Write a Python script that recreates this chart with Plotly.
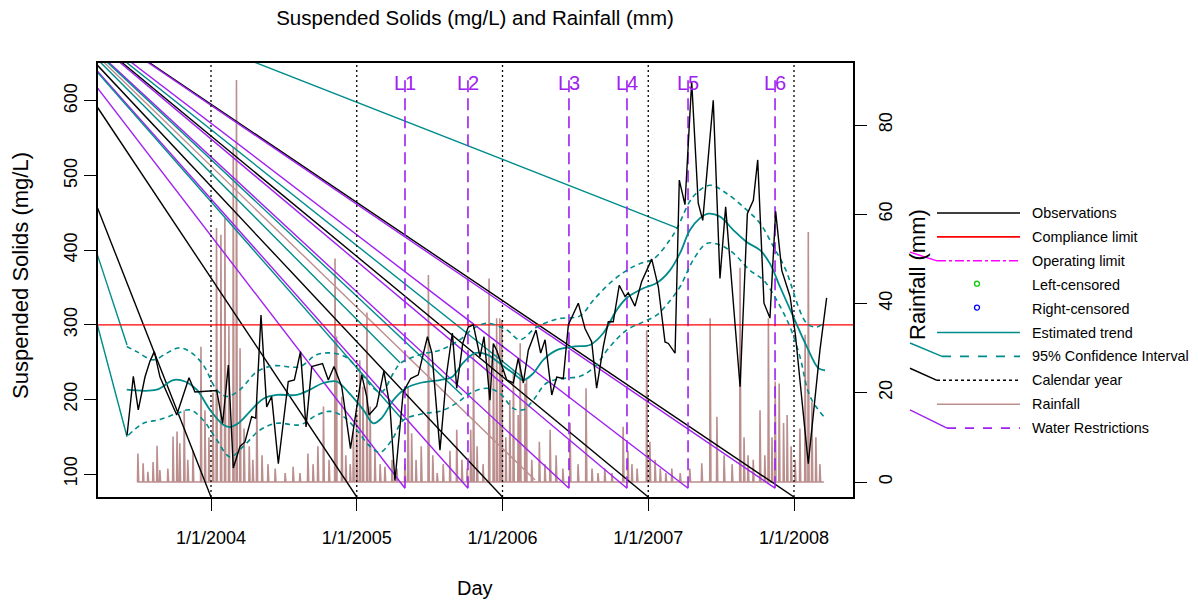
import numpy as np
import plotly.graph_objects as go

# ---------------- data ----------------
obs_year = [2003.424, 2003.467, 2003.501, 2003.547, 2003.581, 2003.611, 2003.650, 2003.765, 2003.849, 2003.890,
            2004.039, 2004.080, 2004.119, 2004.153, 2004.199, 2004.233, 2004.279, 2004.307, 2004.343, 2004.382,
            2004.416, 2004.462, 2004.530, 2004.572, 2004.614, 2004.652, 2004.691, 2004.765, 2004.805, 2004.844,
            2004.897, 2004.957, 2005.034, 2005.068, 2005.084, 2005.137, 2005.186, 2005.228, 2005.262, 2005.319,
            2005.370, 2005.422, 2005.485, 2005.516, 2005.571, 2005.617, 2005.656, 2005.686, 2005.727, 2005.765,
            2005.800, 2005.846, 2005.873, 2005.914, 2005.937, 2005.960, 2006.029, 2006.074, 2006.108, 2006.143,
            2006.177, 2006.230, 2006.262, 2006.292, 2006.338, 2006.372, 2006.417, 2006.452, 2006.520, 2006.566,
            2006.612, 2006.646, 2006.692, 2006.726, 2006.760, 2006.801, 2006.841, 2006.863, 2006.909, 2006.955,
            2007.024, 2007.069, 2007.115, 2007.138, 2007.184, 2007.213, 2007.252, 2007.298, 2007.343, 2007.374,
            2007.446, 2007.492, 2007.531, 2007.630, 2007.680, 2007.721, 2007.751, 2007.794, 2007.835, 2007.874,
            2007.916, 2007.973, 2008.010, 2008.098, 2008.178, 2008.224]
obs_ssc = [152, 231, 186, 230, 251, 264, 230, 179, 229, 210,
           212, 168, 246, 108, 137, 143, 177, 175, 313, 190,
           204, 114, 224, 226, 264, 163, 244, 248, 226, 244,
           217, 134, 233, 204, 179, 191, 238, 190, 91, 210,
           228, 233, 284, 262, 132, 235, 289, 215, 275, 297,
           300, 257, 284, 199, 275, 266, 226, 222, 255, 222,
           266, 293, 262, 280, 206, 230, 228, 300, 329, 295,
           277, 215, 271, 304, 304, 353, 338, 343, 325, 358,
           388, 351, 277, 275, 262, 494, 461, 626, 463, 440,
           601, 362, 458, 217, 449, 467, 521, 329, 309, 452,
           373, 338, 286, 114, 266, 336]

trend_year = [2003.422, 2003.627, 2003.741, 2003.822, 2003.902, 2003.993, 2004.084, 2004.130, 2004.187, 2004.268,
              2004.359, 2004.451, 2004.588, 2004.679, 2004.770, 2004.862, 2004.954, 2005.045, 2005.114, 2005.171,
              2005.251, 2005.337, 2005.434, 2005.571, 2005.654, 2005.729, 2005.811, 2005.894, 2005.983, 2006.074,
              2006.143, 2006.211, 2006.280, 2006.372, 2006.497, 2006.600, 2006.692, 2006.784, 2006.852, 2006.966,
              2007.058, 2007.149, 2007.218, 2007.286, 2007.355, 2007.412, 2007.492, 2007.584, 2007.675, 2007.767,
              2007.835, 2007.904, 2007.995, 2008.087, 2008.167, 2008.213]
trend_ssc = [213, 213, 226, 224, 213, 186, 166, 163, 168, 184,
             201, 206, 206, 213, 222, 224, 207, 186, 168, 175,
             199, 215, 222, 226, 230, 249, 262, 260, 248, 235,
             226, 235, 253, 266, 271, 273, 289, 320, 336, 349,
             356, 373, 396, 427, 443, 449, 445, 427, 411, 400,
             382, 351, 311, 271, 242, 239]

ci_upper_year = [2003.422, 2003.490, 2003.604, 2003.696, 2003.776, 2003.856, 2003.947, 2004.039, 2004.108, 2004.199,
                 2004.314, 2004.427, 2004.611, 2004.725, 2004.839, 2004.931, 2005.022, 2005.114, 2005.171, 2005.251,
                 2005.297, 2005.434, 2005.571, 2005.708, 2005.800, 2005.892, 2006.029, 2006.120, 2006.235, 2006.381,
                 2006.532, 2006.623, 2006.738, 2006.852, 2006.943, 2007.035, 2007.149, 2007.204, 2007.309, 2007.423,
                 2007.538, 2007.675, 2007.767, 2007.858, 2007.938, 2008.087, 2008.156, 2008.201]
ci_upper_ssc = [271, 264, 253, 262, 269, 264, 246, 213, 204, 213,
                237, 245, 244, 260, 262, 256, 237, 215, 210, 235,
                248, 260, 266, 280, 295, 302, 293, 280, 297, 308,
                312, 333, 356, 373, 382, 388, 414, 432, 472, 487,
                476, 454, 436, 405, 376, 302, 297, 302]

ci_lower_year = [2003.433, 2003.536, 2003.650, 2003.765, 2003.856, 2003.947, 2004.039, 2004.130, 2004.222, 2004.336,
                 2004.451, 2004.611, 2004.725, 2004.816, 2004.908, 2005.000, 2005.091, 2005.160, 2005.242, 2005.319,
                 2005.457, 2005.571, 2005.686, 2005.777, 2005.892, 2005.983, 2006.074, 2006.143, 2006.211, 2006.303,
                 2006.417, 2006.532, 2006.623, 2006.738, 2006.852, 2006.966, 2007.058, 2007.127, 2007.218, 2007.309,
                 2007.401, 2007.492, 2007.584, 2007.698, 2007.790, 2007.881, 2007.973, 2008.041, 2008.110, 2008.213]
ci_lower_ssc = [152, 168, 173, 181, 186, 172, 146, 123, 137, 159,
                168, 166, 179, 184, 177, 159, 137, 129, 146, 172,
                181, 184, 195, 208, 215, 208, 188, 186, 199, 222,
                228, 231, 242, 271, 293, 304, 313, 327, 351, 387,
                409, 407, 396, 373, 360, 333, 297, 257, 204, 175]

rain_start, rain_end = 2003.493, 2008.205
rain_year = [2003.499, 2003.533, 2003.568, 2003.602, 2003.630, 2003.650, 2003.705, 2003.739, 2003.767, 2003.787,
             2003.815, 2003.842, 2003.877, 2003.931, 2003.959, 2003.986, 2004.014, 2004.039, 2004.067, 2004.096,
             2004.123, 2004.153, 2004.176, 2004.199, 2004.226, 2004.261, 2004.288, 2004.314, 2004.350, 2004.391,
             2004.439, 2004.508, 2004.563, 2004.611, 2004.666, 2004.700, 2004.734, 2004.771, 2004.810, 2004.851,
             2004.862, 2004.897, 2004.926, 2004.954, 2004.976, 2005.000, 2005.022, 2005.043, 2005.070, 2005.091,
             2005.125, 2005.160, 2005.194, 2005.242, 2005.276, 2005.331, 2005.352, 2005.377, 2005.407, 2005.441,
             2005.491, 2005.523, 2005.551, 2005.592, 2005.640, 2005.686, 2005.722, 2005.756, 2005.782, 2005.800,
             2005.825, 2005.866, 2005.909, 2005.937, 2005.960, 2005.983, 2005.995, 2006.024, 2006.051, 2006.074,
             2006.108, 2006.120, 2006.154, 2006.166, 2006.202, 2006.253, 2006.292, 2006.326, 2006.367, 2006.415,
             2006.463, 2006.518, 2006.573, 2006.614, 2006.655, 2006.703, 2006.751, 2006.829, 2006.861, 2006.889,
             2006.923, 2006.989, 2007.012, 2007.046, 2007.081, 2007.122, 2007.163, 2007.218, 2007.286, 2007.367,
             2007.424, 2007.470, 2007.520, 2007.575, 2007.630, 2007.657, 2007.684, 2007.719, 2007.767, 2007.801,
             2007.824, 2007.849, 2007.870, 2007.899, 2007.927, 2007.952, 2007.979, 2008.007, 2008.041, 2008.075,
             2008.098, 2008.124, 2008.151, 2008.178]
rain_mm = [6.4, 4.2, 2.3, 4.5, 8.1, 2.7, 3.0, 10.2, 11.3, 8.7,
           16.1, 5.0, 7.0, 30.3, 16.1, 10.0, 20.0, 56.9, 55.4, 59.1,
           35.0, 75.1, 90.1, 30.0, 12.0, 8.0, 5.0, 18.4, 6.0, 4.0,
           3.0, 2.0, 3.4, 2.0, 6.4, 4.0, 8.0, 16.9, 5.0, 50.1,
           32.6, 19.1, 6.0, 4.0, 11.3, 15.4, 27.3, 21.4, 38.0, 16.9,
           7.0, 4.0, 3.4, 5.0, 3.0, 4.0, 21.4, 10.9, 5.0, 8.0,
           46.4, 6.0, 2.0, 4.0, 7.0, 11.7, 5.0, 3.0, 11.7, 28.8,
           8.0, 4.0, 45.6, 29.6, 36.7, 36.7, 36.3, 10.0, 18.4, 25.1,
           15.0, 31.1, 22.1, 22.9, 5.0, 9.0, 4.0, 11.7, 6.0, 3.0,
           13.2, 4.0, 21.0, 3.0, 2.0, 3.0, 2.0, 12.4, 7.0, 4.0,
           3.0, 34.0, 9.0, 5.0, 3.0, 2.0, 3.0, 2.0, 3.0, 4.2,
           36.7, 14.6, 6.0, 4.0, 48.0, 10.0, 6.0, 5.0, 16.1, 6.0,
           36.7, 10.0, 22.5, 22.1, 13.2, 15.0, 8.0, 5.0, 12.0, 33.0,
           56.0, 18.0, 10.0, 4.0]

compliance_limit = 300
calendar_years = [2004, 2005, 2006, 2007, 2008]
calendar_labels = ["1/1/2004", "1/1/2005", "1/1/2006", "1/1/2007", "1/1/2008"]
restriction_year = [2005.331, 2005.763, 2006.456, 2006.854, 2007.273, 2007.870]
restriction_labels = ["L1", "L2", "L3", "L4", "L5", "L6"]
restriction_bottom, restriction_top, restriction_label_y = 81, 632, 624

ssc_ticks = [100, 200, 300, 400, 500, 600]
rain_ticks = [0, 20, 40, 60, 80]
x_range = [2003.2247, 2008.4048]
ssc_range = [69.2, 650.9]
rain_range = [-3.36, 93.9]

# stray connector strokes visible in the reference (all from one origin point)
artifact_origin = (2002.562, 785)
artifact_teal_year = [2003.424, 2003.424, 2005.297, 2005.317, 2005.722, 2006.141, 2007.197]
artifact_teal_ssc = [273, 150, 249, 172, 206, 229, 430]
artifact_rosy_year = [2006.223]
artifact_rosy_ssc = [92]

legend_labels = ["Observations", "Compliance limit", "Operating limit", "Left-censored", "Right-censored",
                 "Estimated trend", "95% Confidence Interval", "Calendar year", "Rainfall", "Water Restrictions"]

# ---------------- styling ----------------
FONT = "Liberation Sans, Arial, sans-serif"
TEAL = "#008B8B"
PURPLE = "#A020F0"
ROSY = "#BC8F8F"
MAGENTA = "#FF00FF"

W, H = 1198, 604
PL, PR, PT, PB = 98, 853, 63, 497  # plot area in pixels


def px(xp, yp):
    return (xp - PL) / (PR - PL), (PB - yp) / (PB - PT)


fig = go.Figure()


def connectors(ends_x, ends_y, color):
    xs, ys = [], []
    for ex, ey in zip(ends_x, ends_y):
        xs += [artifact_origin[0], ex, None]
        ys += [artifact_origin[1], ey, None]
    fig.add_trace(go.Scatter(x=xs, y=ys, mode="lines", yaxis="y2",
                             line=dict(color=color, width=1.4), hoverinfo="skip", showlegend=False))


# rainfall on the base (right) axis, drawn first
n_days = int(round((rain_end - rain_start) * 365.25)) + 1
day_year = rain_start + np.arange(n_days) / 365.25
rain_daily = np.zeros(n_days)
for t, r in zip(rain_year, rain_mm):
    i = int(round((t - rain_start) * 365.25))
    rain_daily[i] = max(rain_daily[i], r)
fig.add_trace(go.Scatter(x=day_year, y=rain_daily, mode="lines", yaxis="y",
                         line=dict(color=ROSY, width=1.6), hoverinfo="skip", showlegend=False))

# connectors
connectors(calendar_years, [ssc_range[0]] * len(calendar_years), "black")
connectors(restriction_year, [restriction_bottom] * len(restriction_year), PURPLE)
connectors(artifact_teal_year, artifact_teal_ssc, TEAL)
connectors(artifact_rosy_year, artifact_rosy_ssc, ROSY)

# calendar year lines
xs, ys = [], []
for cy in calendar_years:
    xs += [cy, cy, None]
    ys += [ssc_range[0], ssc_range[1], None]
fig.add_trace(go.Scatter(x=xs, y=ys, mode="lines", yaxis="y2",
                         line=dict(color="black", width=1.3, dash="2px,3px"), hoverinfo="skip", showlegend=False))

# water restriction lines
xs, ys = [], []
for ry in restriction_year:
    xs += [ry, ry, None]
    ys += [restriction_bottom, restriction_top, None]
fig.add_trace(go.Scatter(x=xs, y=ys, mode="lines", yaxis="y2",
                         line=dict(color=PURPLE, width=1.6, dash="12px,6px"), hoverinfo="skip", showlegend=False))

# compliance limit
fig.add_trace(go.Scatter(x=x_range, y=[compliance_limit] * 2, mode="lines", yaxis="y2",
                         line=dict(color="red", width=1.3), hoverinfo="skip", showlegend=False))

# confidence interval & trend
fig.add_trace(go.Scatter(x=ci_upper_year, y=ci_upper_ssc, mode="lines", yaxis="y2", line_shape="spline",
                         line=dict(color=TEAL, width=1.6, dash="5px,4px"), showlegend=False))
fig.add_trace(go.Scatter(x=ci_lower_year, y=ci_lower_ssc, mode="lines", yaxis="y2", line_shape="spline",
                         line=dict(color=TEAL, width=1.6, dash="5px,4px"), showlegend=False))
fig.add_trace(go.Scatter(x=trend_year, y=trend_ssc, mode="lines", yaxis="y2", line_shape="spline",
                         line=dict(color=TEAL, width=1.8), showlegend=False))

# observations
fig.add_trace(go.Scatter(x=obs_year, y=obs_ssc, mode="lines", yaxis="y2",
                         line=dict(color="black", width=1.4), showlegend=False))

# restriction labels
annotations = []
for ry, lab in zip(restriction_year, restriction_labels):
    annotations.append(dict(x=ry, y=restriction_label_y, xref="x", yref="y2", text=lab, showarrow=False,
                            font=dict(family=FONT, size=20, color=PURPLE), xanchor="center", yanchor="middle"))

# ---------------- hand-built legend ----------------
shapes = []
row0, row_step = 213, 23.9
seg_x0, seg_x1, text_x = 937, 1020, 1030
legend_style = [
    ("line", "black", "solid", seg_x0),
    ("line", "red", "solid", seg_x0),
    ("line", MAGENTA, "dashdot", seg_x0),
    ("point", "#00CD00", None, None),
    ("point", "blue", None, None),
    ("line", TEAL, "solid", seg_x0),
    ("line", TEAL, "dash", 942),
    ("line", "black", "dot", seg_x0),
    ("line", ROSY, "solid", seg_x0),
    ("line", PURPLE, "dash", 947),
]
origin_px = (1.4, -37)
for i, (lab, (kind, col, dash, sx)) in enumerate(zip(legend_labels, legend_style)):
    yp = row0 + i * row_step
    ax, ay = px(text_x, yp)
    annotations.append(dict(x=ax, y=ay, xref="paper", yref="paper", text=lab, showarrow=False,
                            xanchor="left", yanchor="middle", font=dict(family=FONT, size=14.4, color="black")))
    if kind == "line":
        x0, y0 = px(sx, yp)
        x1, y1 = px(seg_x1, yp)
        shapes.append(dict(type="line", xref="paper", yref="paper", x0=x0, y0=y0, x1=x1, y1=y1,
                           line=dict(color=col, width=1.6, dash=dash)))
        if dash in ("dashdot", "dash", "dot"):
            slope = (yp - origin_px[1]) / (sx - origin_px[0])
            ys0 = yp - slope * (sx - 910)
            a0, b0 = px(910, ys0)
            shapes.append(dict(type="line", xref="paper", yref="paper", x0=a0, y0=b0, x1=x0, y1=y0,
                               line=dict(color=col, width=1.4)))
    else:
        cx0, cy0 = px(977 - 2.5, yp - 3.5)
        cx1, cy1 = px(977 + 2.5, yp + 1.5)
        shapes.append(dict(type="circle", xref="paper", yref="paper", x0=cx0, y0=cy0, x1=cx1, y1=cy1,
                           line=dict(color=col, width=1.3)))

# axis titles
annotations.append(dict(x=px(475, 0)[0], y=px(0, 588)[1], xref="paper", yref="paper", text="Day",
                        showarrow=False, font=dict(family=FONT, size=20, color="black"),
                        xanchor="center", yanchor="middle"))
annotations.append(dict(x=px(20, 0)[0], y=px(0, 276)[1], xref="paper", yref="paper",
                        text="Suspended Solids (mg/L)",
                        textangle=-90, showarrow=False, font=dict(family=FONT, size=22, color="black"),
                        xanchor="center", yanchor="middle"))
annotations.append(dict(x=px(917, 0)[0], y=px(0, 275)[1], xref="paper", yref="paper", text="Rainfall (mm)",
                        textangle=-90, showarrow=False, font=dict(family=FONT, size=22, color="black"),
                        xanchor="center", yanchor="middle"))

axis_common = dict(showgrid=False, zeroline=False, showline=True, linecolor="black", linewidth=1.5,
                   ticks="outside", ticklen=12, tickwidth=1.3, tickcolor="black",
                   tickfont=dict(family=FONT, size=18, color="black"))

fig.update_layout(
    width=W, height=H, autosize=False,
    margin=dict(l=PL, r=W - PR, t=PT, b=H - PB, pad=0),
    paper_bgcolor="white", plot_bgcolor="white",
    font=dict(family=FONT, color="black"),
    title=dict(text="Suspended Solids (mg/L) and Rainfall (mm)", x=475 / W,
               xanchor="center", y=1 - 18 / H, yanchor="middle",
               font=dict(family=FONT, size=20.5, color="black")),
    xaxis=dict(range=x_range, tickvals=calendar_years, ticktext=calendar_labels, mirror=True,
               ticklabelstandoff=12, **axis_common),
    yaxis=dict(range=rain_range, tickvals=rain_ticks, side="right", tickangle=-90,
               ticklabelstandoff=4, **axis_common),
    yaxis2=dict(range=ssc_range, tickvals=ssc_ticks, side="left", overlaying="y", tickangle=-90,
                ticklabelstandoff=0, **axis_common),
    shapes=shapes, annotations=annotations, showlegend=False,
)

fig.write_html("out.html", config={"displayModeBar": False},
               post_script="document.body.style.margin='0';document.body.style.overflow='hidden';")
